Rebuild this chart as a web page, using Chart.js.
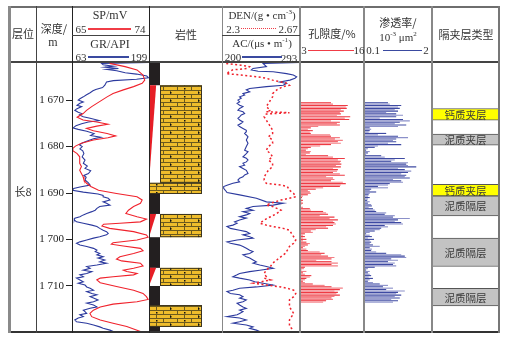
<!DOCTYPE html>
<html>
<head>
<meta charset="utf-8">
<script src="https://cdn.jsdelivr.net/npm/chart.js"></script>
<style>
    body { margin: 0; background: #fff; }
    #log { position: relative; width: 505px; height: 337px; color: #333; font-family: "Liberation Serif", serif; }
    #log canvas { position: absolute; top: 62px; }
    .t { position: absolute; white-space: nowrap; font-size: 12px; line-height: 12px; transform: translate(-50%, -50%); }
    .s { font-size: 11px; }
    .cn { font-family: "Noto Sans CJK SC", sans-serif; font-size: 11px; }
    .l { position: absolute; background: #6e6e6e; }
    sup { font-size: 7px; vertical-align: 5px; line-height: 0; }
</style>
</head>
<body>
<div id="log">
    <canvas id="logs" width="113" height="270" style="left:36px"></canvas>
    <canvas id="lith" width="73" height="270" style="left:149px"></canvas>
    <canvas id="denac" width="78" height="270" style="left:222px"></canvas>
    <canvas id="por" width="64" height="270" style="left:300px"></canvas>
    <canvas id="perm" width="68" height="270" style="left:364px"></canvas>
    <canvas id="interlayer" width="67" height="270" style="left:432px"></canvas>

    <!-- frame -->
    <div class="l" style="left:8px;top:6px;width:492px;height:2px"></div>
    <div class="l" style="left:8px;top:61px;width:492px;height:1.5px;background:#444"></div>
    <div class="l" style="left:8px;top:331px;width:492px;height:1.5px;background:#333"></div>
    <div class="l" style="left:8px;top:6px;width:3px;height:327px;background:#8a8a8a"></div>
    <div class="l" style="left:498px;top:6px;width:2px;height:327px;background:#777"></div>
    <div class="l" style="left:35.5px;top:6px;width:1px;height:327px;background:#444"></div>
    <div class="l" style="left:71.5px;top:6px;width:1px;height:327px;background:#222"></div>
    <div class="l" style="left:148.5px;top:6px;width:1px;height:327px;background:#222"></div>
    <div class="l" style="left:221.5px;top:6px;width:1.5px;height:327px;background:#888"></div>
    <div class="l" style="left:299px;top:6px;width:1.5px;height:327px;background:#888"></div>
    <div class="l" style="left:363px;top:6px;width:1.5px;height:327px;background:#888"></div>
    <div class="l" style="left:431px;top:6px;width:1.5px;height:327px;background:#888"></div>
    <div class="l" style="left:72px;top:34.5px;width:77px;height:1px;background:#444"></div>
    <div class="l" style="left:222px;top:34.5px;width:78px;height:1px;background:#444"></div>

    <!-- header -->
    <div class="t cn" style="left:23px;top:33px">层位</div>
    <div class="t cn" style="left:54px;top:28px">深度/</div>
    <div class="t" style="left:53px;top:42px">m</div>
    <div class="t" style="left:110px;top:15px">SP/mV</div>
    <div class="t s" style="left:81px;top:29px">65</div>
    <div class="t s" style="left:140px;top:29px">74</div>
    <div class="l" style="left:88px;top:28px;width:43px;height:1.5px;background:#f03c46"></div>
    <div class="t" style="left:110px;top:44px">GR/API</div>
    <div class="t s" style="left:81px;top:57px">63</div>
    <div class="t s" style="left:139px;top:57px">199</div>
    <div class="l" style="left:88px;top:56px;width:41px;height:1.5px;background:#3a4aa0"></div>
    <div class="t cn" style="left:186px;top:34px">岩性</div>
    <div class="t s" style="left:262px;top:15px">DEN/(g • cm<sup>-3</sup>)</div>
    <div class="t s" style="left:233px;top:29px">2.3</div>
    <div class="t s" style="left:288px;top:29px">2.67</div>
    <div class="l" style="left:241px;top:28px;width:35px;height:0;background:none;border-top:1.5px dotted #f03c46"></div>
    <div class="t s" style="left:262px;top:43px">AC/(μs • m<sup>-1</sup>)</div>
    <div class="t s" style="left:233px;top:57px">200</div>
    <div class="t s" style="left:289px;top:58px">293</div>
    <div class="l" style="left:242px;top:56px;width:40px;height:1.5px;background:#3a4aa0"></div>
    <div class="t cn" style="left:332px;top:33px">孔隙度/%</div>
    <div class="t s" style="left:304px;top:50px">3</div>
    <div class="t s" style="left:359px;top:50px">16</div>
    <div class="l" style="left:308px;top:49.5px;width:46px;height:1.5px;background:#f03c46"></div>
    <div class="t cn" style="left:398px;top:22px">渗透率/</div>
    <div class="t s" style="left:398px;top:37px">10<sup>-3</sup> μm<sup>2</sup></div>
    <div class="t s" style="left:373px;top:50px">0.1</div>
    <div class="t s" style="left:426px;top:50px">2</div>
    <div class="l" style="left:383px;top:49.5px;width:39px;height:1.5px;background:#3a4aa0"></div>
    <div class="t cn" style="left:466px;top:34px">隔夹层类型</div>
    <div class="t cn" style="left:23px;top:191px">长8</div>
</div>

<script>
const DEPTH_MIN = 1661.8;
const DEPTH_MAX = 1719.9;
const depth_ticks = [1670, 1680, 1690, 1700, 1710];

// SP / GR
const sp_depth = [1662.1, 1662.8, 1663.5, 1664.6, 1665.7, 1666.4, 1667.1, 1667.8, 1668.6, 1669.3, 1670.0, 1670.7, 1671.4, 1672.2, 1672.9, 1673.7, 1674.3, 1674.7, 1675.2, 1675.6, 1676.1, 1676.6, 1677.2, 1677.7, 1678.1, 1678.6, 1679.3, 1679.9, 1680.4, 1680.9, 1681.5, 1682.2, 1682.9, 1683.6, 1684.3, 1685.1, 1685.8, 1686.5, 1687.2, 1687.9, 1688.6, 1689.4, 1690.1, 1690.8, 1691.5, 1692.2, 1692.9, 1693.7, 1694.4, 1695.1, 1695.6, 1696.2, 1696.5, 1696.7, 1697.1, 1697.6, 1698.3, 1699.0, 1699.5, 1700.1, 1700.7, 1701.0, 1701.4, 1701.9, 1702.4, 1703.0, 1703.7, 1704.2, 1704.6, 1705.1, 1705.7, 1706.2, 1706.6, 1706.9, 1707.3, 1707.6, 1708.0, 1708.3, 1708.7, 1709.3, 1710.1, 1710.9, 1711.6, 1712.3, 1712.9, 1713.4, 1713.9, 1714.5, 1715.2, 1715.9, 1716.6, 1717.3, 1718.0, 1718.7, 1719.5, 1719.8];
const sp_value = [69.4, 71.2, 72.6, 73.3, 73.5, 73.2, 72.2, 71.0, 69.8, 69.1, 68.5, 67.9, 67.3, 66.7, 66.3, 65.6, 66.3, 67.9, 69.2, 67.9, 66.7, 67.5, 69.1, 70.1, 69.2, 67.5, 66.1, 65.4, 65.1, 65.1, 65.6, 65.9, 65.9, 65.9, 66.1, 65.9, 66.1, 66.3, 66.4, 66.7, 67.2, 68.1, 70.2, 72.6, 73.2, 73.0, 72.2, 71.6, 71.3, 72.6, 73.7, 73.0, 70.6, 68.7, 68.5, 69.4, 72.2, 73.7, 73.9, 72.6, 69.8, 69.6, 71.0, 73.0, 73.3, 72.2, 70.6, 70.2, 70.8, 73.0, 73.3, 72.2, 71.0, 71.4, 72.6, 72.2, 69.8, 68.3, 67.9, 68.3, 70.2, 72.2, 73.3, 73.7, 73.9, 72.6, 69.8, 68.3, 67.5, 67.1, 67.3, 68.3, 69.8, 71.4, 72.6, 73.0];
const gr_depth = [1661.9, 1662.1, 1662.4, 1662.7, 1662.9, 1663.2, 1663.4, 1663.7, 1664.1, 1664.4, 1664.8, 1665.2, 1665.5, 1665.8, 1666.1, 1666.8, 1667.3, 1667.7, 1668.0, 1668.4, 1668.9, 1669.3, 1669.7, 1670.0, 1670.4, 1670.7, 1671.1, 1671.4, 1671.9, 1672.2, 1672.6, 1672.9, 1673.2, 1673.6, 1673.9, 1674.4, 1674.7, 1675.1, 1675.5, 1676.0, 1676.3, 1676.7, 1677.2, 1677.6, 1678.0, 1678.3, 1678.8, 1679.2, 1679.6, 1680.0, 1680.5, 1680.9, 1681.5, 1682.2, 1682.9, 1683.6, 1684.2, 1684.7, 1685.2, 1685.8, 1686.2, 1686.6, 1687.2, 1687.8, 1688.3, 1688.7, 1689.0, 1689.4, 1689.8, 1690.2, 1690.5, 1690.8, 1691.1, 1691.5, 1691.9, 1692.2, 1692.6, 1692.9, 1693.3, 1693.7, 1694.0, 1694.4, 1694.7, 1695.1, 1695.4, 1695.8, 1696.2, 1696.5, 1696.9, 1697.2, 1697.6, 1698.0, 1698.3, 1698.7, 1699.0, 1699.4, 1699.7, 1700.1, 1700.5, 1700.8, 1701.2, 1701.5, 1701.9, 1702.3, 1702.6, 1703.0, 1703.3, 1703.7, 1704.0, 1704.4, 1704.8, 1705.1, 1705.5, 1705.8, 1706.2, 1706.6, 1706.9, 1707.3, 1707.6, 1708.0, 1708.3, 1708.7, 1709.1, 1709.4, 1709.8, 1710.2, 1710.5, 1710.9, 1711.2, 1711.6, 1711.9, 1712.3, 1712.6, 1713.0, 1713.4, 1713.7, 1714.1, 1714.5, 1714.8, 1715.2, 1715.5, 1715.9, 1716.2, 1716.6, 1716.9, 1717.3, 1717.7, 1718.0, 1718.4, 1718.8, 1719.1, 1719.5, 1719.8];
const gr_value = [199, 115, 118, 136, 121, 145, 124, 142, 157, 177, 195, 198, 177, 136, 124, 121, 117, 105, 100, 95, 88, 83, 77, 74, 83, 77, 72, 80, 71, 68, 74, 80, 76, 83, 95, 111, 92, 80, 70, 65, 74, 89, 102, 96, 114, 101, 90, 82, 76, 81, 77, 82, 84, 81, 86, 83, 90, 86, 96, 92, 84, 88, 86, 92, 95, 77, 66, 64, 83, 109, 118, 118, 127, 130, 118, 124, 130, 112, 107, 104, 98, 89, 83, 77, 68, 67, 71, 83, 98, 107, 112, 118, 124, 127, 124, 112, 101, 89, 77, 71, 77, 89, 101, 107, 104, 112, 107, 118, 109, 121, 112, 124, 107, 89, 95, 83, 98, 89, 77, 83, 71, 77, 83, 74, 86, 89, 95, 101, 89, 98, 107, 95, 101, 109, 101, 89, 101, 107, 95, 83, 86, 89, 77, 83, 74, 68, 71, 89, 101, 112, 118, 130, 136];

// DEN / AC
const den_depth = [1662.1, 1662.5, 1662.8, 1663.2, 1663.5, 1664.3, 1664.6, 1665.0, 1665.3, 1665.7, 1666.1, 1666.4, 1666.8, 1667.1, 1667.8, 1668.6, 1669.3, 1670.0, 1670.7, 1671.4, 1672.2, 1672.5, 1672.7, 1673.0, 1673.6, 1674.3, 1675.0, 1675.7, 1676.5, 1677.2, 1677.9, 1678.6, 1679.3, 1680.0, 1680.8, 1681.5, 1682.2, 1682.9, 1683.6, 1684.3, 1685.1, 1685.8, 1686.5, 1687.2, 1687.9, 1688.3, 1688.6, 1689.4, 1690.1, 1690.8, 1691.5, 1692.2, 1692.6, 1692.9, 1693.7, 1694.4, 1695.1, 1695.8, 1696.5, 1696.9, 1697.2, 1697.6, 1698.0, 1698.7, 1699.4, 1700.1, 1700.8, 1701.5, 1702.3, 1703.0, 1703.7, 1704.4, 1705.1, 1705.8, 1706.6, 1707.3, 1708.0, 1708.3, 1708.7, 1709.4, 1709.8, 1710.2, 1710.5, 1710.9, 1711.6, 1712.3, 1713.0, 1713.7, 1714.5, 1715.2, 1715.9, 1716.6, 1717.3, 1718.0, 1718.7, 1719.5];
const den_value = [2.32, 2.39, 2.43, 2.42, 2.35, 2.32, 2.39, 2.47, 2.51, 2.54, 2.58, 2.61, 2.62, 2.59, 2.56, 2.54, 2.54, 2.53, 2.52, 2.51, 2.53, 2.51, 2.62, 2.51, 2.50, 2.51, 2.52, 2.53, 2.54, 2.54, 2.52, 2.54, 2.54, 2.52, 2.51, 2.53, 2.54, 2.52, 2.54, 2.54, 2.52, 2.51, 2.50, 2.50, 2.51, 2.58, 2.61, 2.62, 2.64, 2.65, 2.58, 2.53, 2.51, 2.54, 2.58, 2.56, 2.53, 2.50, 2.48, 2.51, 2.54, 2.59, 2.62, 2.63, 2.64, 2.65, 2.64, 2.62, 2.61, 2.60, 2.58, 2.56, 2.54, 2.53, 2.51, 2.50, 2.51, 2.50, 2.53, 2.45, 2.51, 2.58, 2.61, 2.64, 2.65, 2.64, 2.62, 2.62, 2.62, 2.63, 2.64, 2.63, 2.62, 2.62, 2.62, 2.64];
const ac_depth = [1661.9, 1662.1, 1662.8, 1663.2, 1663.5, 1663.8, 1663.9, 1664.3, 1664.6, 1665.0, 1665.3, 1665.7, 1666.1, 1666.4, 1666.8, 1667.1, 1667.5, 1667.8, 1668.2, 1668.6, 1668.9, 1669.3, 1669.6, 1670.0, 1670.4, 1670.7, 1671.1, 1671.4, 1671.8, 1672.2, 1672.5, 1672.9, 1673.2, 1673.6, 1673.9, 1674.3, 1674.7, 1675.0, 1675.4, 1675.7, 1676.1, 1676.5, 1676.8, 1677.2, 1677.5, 1677.9, 1678.6, 1679.3, 1680.0, 1680.8, 1681.1, 1681.5, 1682.2, 1682.5, 1682.9, 1683.3, 1683.6, 1684.0, 1684.3, 1684.7, 1685.1, 1685.8, 1686.1, 1686.5, 1686.8, 1687.2, 1687.6, 1687.9, 1688.3, 1688.6, 1689.0, 1689.4, 1689.9, 1690.4, 1691.1, 1691.9, 1692.2, 1692.6, 1692.9, 1693.3, 1693.7, 1694.0, 1694.4, 1694.7, 1695.1, 1695.4, 1695.8, 1696.2, 1696.5, 1696.9, 1697.2, 1697.6, 1698.0, 1698.3, 1698.7, 1699.0, 1699.4, 1699.7, 1700.1, 1700.5, 1700.8, 1701.2, 1701.5, 1701.9, 1702.3, 1702.6, 1703.0, 1703.3, 1703.7, 1704.0, 1704.4, 1704.8, 1705.1, 1705.5, 1705.8, 1706.2, 1706.6, 1706.9, 1707.3, 1707.6, 1708.0, 1708.3, 1708.7, 1709.1, 1709.4, 1709.8, 1710.2, 1710.5, 1710.9, 1711.2, 1711.6, 1711.9, 1712.3, 1712.6, 1713.0, 1713.4, 1713.7, 1714.1, 1714.5, 1714.8, 1715.2, 1715.5, 1715.9, 1716.2, 1716.6, 1716.9, 1717.3, 1717.7, 1718.0, 1718.4, 1718.8, 1719.1, 1719.5, 1719.8];
const ac_value = [293, 249, 253, 237, 235, 243, 261, 277, 285, 289, 287, 281, 269, 277, 273, 253, 233, 229, 233, 225, 227, 221, 223, 219, 221, 218, 221, 225, 221, 219, 225, 227, 223, 221, 219, 221, 225, 223, 219, 221, 225, 229, 229, 227, 229, 231, 229, 231, 229, 227, 231, 229, 225, 229, 231, 229, 225, 227, 221, 225, 229, 231, 227, 225, 221, 219, 221, 213, 206, 202, 202, 204, 206, 221, 241, 253, 273, 261, 237, 229, 237, 225, 233, 229, 221, 229, 221, 215, 218, 213, 206, 210, 221, 229, 233, 225, 233, 237, 218, 206, 210, 221, 225, 229, 233, 237, 233, 225, 229, 233, 237, 241, 237, 245, 253, 261, 245, 233, 221, 218, 213, 221, 233, 239, 249, 261, 241, 221, 213, 206, 210, 221, 225, 221, 229, 225, 218, 221, 225, 229, 221, 225, 221, 218, 206, 221, 229, 221, 213, 229, 237, 233, 241, 245];

// porosity (%) and permeability (10^-3 um2), one sample every 0.375 m from 1665.5 m
const SAMPLE_TOP = 1665.5;
const SAMPLE_STEP = 0.375;
const porosity = [9.3, 9.7, 12.7, 12.3, 12.5, 11.3, 11.9, 11.1, 11.3, 10.5, 13.2, 12.1, 13.0, 9.3, 11.1, 10.5, 11.1, 6.7, 5.2, 4.6, 5.6, 5.0, 5.2, 9.1, 9.3, 11.1, 10.1, 11.7, 10.7, 11.3, 9.3, 7.1, 5.2, 4.6, 4.2, 5.2, 5.0, 4.2, 8.7, 9.7, 12.1, 10.7, 11.3, 11.1,
    11.4, 10.3, 11.3, 9.7, 10.7, 10.5, 9.7, 11.1, 12.1, 8.3, 9.7, 10.0, 9.3, 11.7, 12.3, 11.3, 11.1, 7.7, 6.2, 4.6, 5.0, 5.2, 4.6, 3.6, 3.4, 3.3, 3.6, 3.3, 3.6, 3.3, 3.1, 3.6, 5.0, 5.2, 7.7, 8.3, 8.7, 7.0, 10.0, 9.0, 10.7, 9.7, 10.0, 10.3, 9.7, 8.3, 8.7, 6.2, 5.2, 5.6, 4.0,
    3.6, 4.0, 3.6, 4.3, 3.6, 4.3, 5.0, 4.6, 4.0, 3.6, 4.3, 4.6, 7.0, 8.0, 7.3, 8.7, 10.0, 9.4, 6.3, 9.4, 10.7, 9.4, 10.7, 4.0, 3.8, 3.3, 4.3, 3.6, 4.0, 5.3, 5.0, 4.3, 4.0, 3.6, 4.0, 5.6, 8.0, 9.4, 11.7, 11.1, 10.0, 10.7, 10.4, 11.1, 10.0, 9.4, 9.7, 8.3, 7.7];
const permeability = [0.77, 0.82, 1.14, 1.05, 1.10, 0.96, 1.05, 0.72, 1.00, 1.19, 1.00, 0.54, 1.19, 1.38, 1.10, 0.96, 1.28, 1.05, 0.26, 0.30, 0.26, 0.23, 0.72, 0.49, 1.05, 1.33, 1.00, 0.91, 1.00, 0.77, 1.14, 0.49, 0.40, 0.21, 0.16, 0.26, 0.21, 0.16, 0.58, 0.68, 1.24, 0.96, 0.86, 1.33,
    1.28, 1.33, 1.56, 1.05, 1.24, 1.42, 1.33, 1.14, 1.28, 1.24, 1.38, 0.91, 1.14, 1.19, 0.82, 0.77, 0.49, 0.77, 0.30, 0.26, 0.44, 0.26, 0.23, 0.21, 0.26, 0.21, 0.19, 0.26, 0.21, 0.30, 0.32, 0.23, 0.35, 0.40, 0.44, 0.72, 0.68, 0.96, 0.91, 1.38, 1.05, 0.96, 1.14, 1.19, 0.68, 0.77, 0.58, 0.54, 0.40, 0.26, 0.16,
    0.26, 0.32, 0.21, 0.38, 0.26, 0.30, 0.26, 0.35, 0.54, 0.26, 0.32, 0.30, 0.44, 0.72, 1.14, 1.24, 1.28, 0.86, 1.05, 0.77, 0.96, 0.91, 1.00, 0.40, 0.21, 0.16, 0.26, 0.21, 0.26, 0.30, 0.23, 0.35, 0.26, 0.21, 0.35, 0.54, 0.77, 0.63, 0.91, 0.72, 1.24, 1.05, 1.00, 1.14, 0.96, 1.10, 0.86, 1.05, 0.91];

// lithology column
const lith_top = [1661.8, 1666.8, 1687.8, 1690.2, 1694.5, 1699.5, 1706.1, 1710.0, 1714.1, 1718.8];
const lith_base = [1666.8, 1687.8, 1690.2, 1694.5, 1699.5, 1706.1, 1710.0, 1714.1, 1718.8, 1719.9];
const lith_kind = ['mud', 'sand', 'calc', 'mud', 'sand', 'mud', 'sand', 'mud', 'calc', 'mud'];

// interlayer type column
const layer_top = [1671.8, 1677.3, 1688.1, 1690.6, 1699.7, 1710.5];
const layer_base = [1674.3, 1679.7, 1690.6, 1694.9, 1705.8, 1714.3];
const layer_name = ['钙质夹层', '泥质夹层', '钙质夹层', '泥质隔层', '泥质隔层', '泥质隔层'];

const sample_depth = porosity.map((v, i) => SAMPLE_TOP + i * SAMPLE_STEP);
const points = (depth, value) => depth.map((d, i) => ({x: value[i], y: d}));

function depth_axis(show) {
    return {
        type: 'linear', reverse: true, min: DEPTH_MIN, max: DEPTH_MAX, display: show,
        position: 'left',
        afterBuildTicks: s => { s.ticks = depth_ticks.map(v => ({value: v})); },
        afterFit: s => {
            if (!show) return;
            s.width = 36;
            s.paddingTop = 0;
            s.paddingBottom = 0;
        },
        grid: {drawOnChartArea: false, drawTicks: true, tickLength: 6, color: '#222', lineWidth: 1},
        border: {display: false},
        ticks: {
            color: '#222', padding: 2,
            font: {family: '"Liberation Serif"', size: 11},
            callback: v => String(v).replace(/^(\d)(\d{3})$/, '$1 $2')
        }
    };
}

const base_options = {
    responsive: false,
    animation: false,
    events: [],
    layout: {padding: 0},
    plugins: {legend: {display: false}, tooltip: {enabled: false}}
};

function brick_pattern(ctx) {
    const c = document.createElement('canvas');
    c.width = 28; c.height = 8;
    const g = c.getContext('2d');
    g.fillStyle = '#efbd2c';
    g.fillRect(0, 0, 28, 8);
    g.fillStyle = '#6b5a1e';
    g.fillRect(0, 0, 28, 1);
    g.fillRect(0, 4, 28, 1);
    g.fillRect(0, 0, 1, 4);
    g.fillRect(14, 0, 1, 4);
    g.fillRect(7, 4, 1, 4);
    g.fillRect(21, 4, 1, 4);
    g.fillStyle = '#111';
    g.fillRect(7, 2, 1.5, 1.5);
    g.fillRect(21, 6, 1.5, 1.5);
    return ctx.createPattern(c, 'repeat');
}

const STRIP_W = 11;
const BLOCK_R = 53;

const lithology_plugin = {
    id: 'lithology',
    afterDatasetsDraw(chart) {
        const {ctx, scales: {x, y}} = chart;
        const brick = brick_pattern(ctx);
        const sl = x.getPixelForValue(0), sr = x.getPixelForValue(STRIP_W), br = x.getPixelForValue(BLOCK_R);
        ctx.save();
        lith_top.forEach((top, i) => {
            const y0 = y.getPixelForValue(top), y1 = y.getPixelForValue(lith_base[i]);
            if (lith_kind[i] === 'mud') {
                ctx.fillStyle = '#231f20';
                ctx.fillRect(sl, y0, sr - sl, y1 - y0);
                return;
            }
            let bl = sl;
            if (lith_kind[i] === 'sand') {
                ctx.fillStyle = '#e61e26';
                ctx.beginPath();
                ctx.moveTo(sl, y0);
                ctx.lineTo(sl + (sr - sl) * 0.65, y0);
                ctx.lineTo(sl, y1);
                ctx.closePath();
                ctx.fill();
                bl = sr;
            }
            ctx.fillStyle = brick;
            ctx.fillRect(bl, y0, br - bl, y1 - y0);
            ctx.strokeStyle = '#3b3420';
            ctx.lineWidth = 1;
            ctx.strokeRect(bl + 0.5, y0 + 0.5, br - bl - 1, y1 - y0 - 1);
        });
        ctx.restore();
    }
};

const layer_label_plugin = {
    id: 'layerLabels',
    afterDatasetsDraw(chart) {
        const ctx = chart.ctx;
        ctx.save();
        ctx.font = '10.5px "Noto Sans CJK SC"';
        ctx.fillStyle = '#3a3a3a';
        ctx.textAlign = 'center';
        ctx.textBaseline = 'middle';
        layer_name.forEach((name, i) => {
            const p = chart.getDatasetMeta(i).data[0].getCenterPoint();
            ctx.fillText(name, p.x, p.y + 0.5);
        });
        ctx.restore();
    }
};

let logs_param = {
    type: 'scatter',
    data: {
        datasets: [{
            label: 'SP', xAxisID: 'xSP',
            data: points(sp_depth, sp_value),
            showLine: true, borderColor: '#f0222c', borderWidth: 1.1, pointRadius: 0, tension: 0
        }, {
            label: 'GR', xAxisID: 'xGR',
            data: points(gr_depth, gr_value),
            showLine: true, borderColor: '#2c3a9e', borderWidth: 1.1, pointRadius: 0, tension: 0
        }]
    },
    options: Object.assign({}, base_options, {
        scales: {
            xSP: {type: 'linear', min: 65, max: 74, display: false},
            xGR: {type: 'linear', min: 63, max: 199, display: false},
            y: depth_axis(true)
        }
    })
};

let lith_param = {
    type: 'scatter',
    data: {datasets: []},
    options: Object.assign({}, base_options, {
        scales: {
            x: {type: 'linear', min: 0, max: 73, display: false},
            y: depth_axis(false)
        }
    }),
    plugins: [lithology_plugin]
};

let denac_param = {
    type: 'scatter',
    data: {
        datasets: [{
            label: 'DEN', xAxisID: 'xDEN',
            data: points(den_depth, den_value),
            showLine: true, borderColor: '#f0222c', borderWidth: 1.5, borderDash: [2, 2.5], pointRadius: 0, tension: 0
        }, {
            label: 'AC', xAxisID: 'xAC',
            data: points(ac_depth, ac_value),
            showLine: true, borderColor: '#2c3a9e', borderWidth: 1.1, pointRadius: 0, tension: 0
        }]
    },
    options: Object.assign({}, base_options, {
        scales: {
            xDEN: {type: 'linear', min: 2.3, max: 2.67, display: false},
            xAC: {type: 'linear', min: 200, max: 293, display: false},
            y: depth_axis(false)
        }
    })
};

function bar_param(values, min, max, dark, light) {
    return {
        type: 'bar',
        data: {
            datasets: [{
                data: values.map((v, i) => ({y: sample_depth[i], x: [min, v]})),
                backgroundColor: values.map((v, i) => i % 2 ? light : dark),
                barPercentage: 0.8,
                categoryPercentage: 1
            }]
        },
        options: Object.assign({}, base_options, {
            indexAxis: 'y',
            scales: {
                x: {type: 'linear', min: min, max: max, display: false},
                y: depth_axis(false)
            }
        })
    };
}

let por_param = bar_param(porosity, 3, 16, '#ee3a43', '#f47f85');
let perm_param = bar_param(permeability, 0.1, 2, '#3e4aa2', '#8b90c9');

let interlayer_param = {
    type: 'bar',
    data: {
        labels: ['type'],
        datasets: layer_top.map((top, i) => ({
            label: layer_name[i],
            data: [[top, layer_base[i]]],
            backgroundColor: layer_name[i].startsWith('钙') ? '#ffff00' : '#c3c3c3',
            borderColor: '#555',
            borderWidth: {top: 1, bottom: 1, left: 0, right: 0},
            borderSkipped: false,
            grouped: false,
            barPercentage: 1,
            categoryPercentage: 1
        }))
    },
    options: Object.assign({}, base_options, {
        scales: {
            x: {type: 'category', display: false},
            y: depth_axis(false)
        }
    }),
    plugins: [layer_label_plugin]
};

new Chart(document.getElementById('logs'), logs_param);
new Chart(document.getElementById('lith'), lith_param);
new Chart(document.getElementById('denac'), denac_param);
new Chart(document.getElementById('por'), por_param);
new Chart(document.getElementById('perm'), perm_param);
new Chart(document.getElementById('interlayer'), interlayer_param);
</script>
</body>
</html>
